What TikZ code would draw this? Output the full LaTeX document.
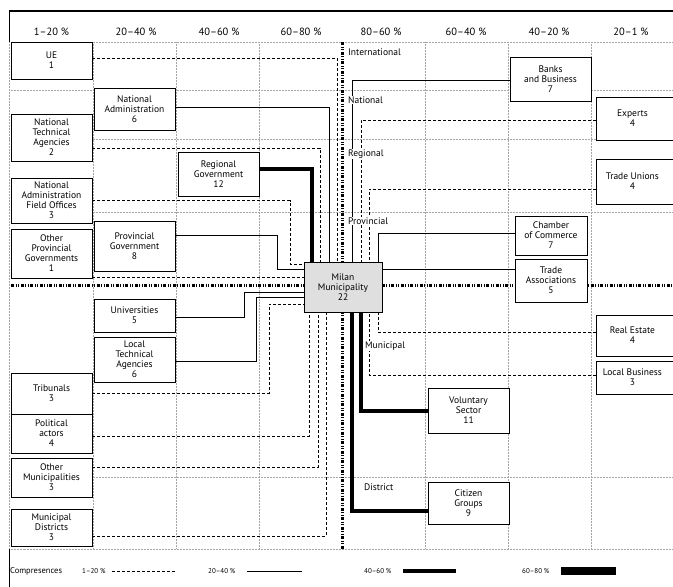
\documentclass[tikz,border=0pt]{standalone}
\usepackage{fontspec}
\setmainfont{PT Sans}
\begin{document}
\begin{tikzpicture}[x=1pt,y=-1pt,
  grid/.style={gray!70, line width=0.6pt, dash pattern=on 0.6pt off 0.9pt},
  axisline/.style={line width=3pt, dash pattern=on 3pt off 1.5pt on 1pt off 1.5pt on 1pt off 1.5pt},
  frame/.style={line width=1pt},
  box/.style={draw, fill=white, line width=0.9pt, align=center, inner sep=0pt, font=\fontsize{9.5}{10}\selectfont},
  cbox/.style={box, minimum width=81pt},
  ebox/.style={box, minimum width=86pt, anchor=west},
  elab/.style={align=center, font=\fontsize{9.5}{10}\selectfont, xshift=-7pt, inner sep=0pt},
  mil/.style={box, fill=gray!25, line width=0.9pt, minimum width=78pt, minimum height=50pt},
  cA/.style={line width=0.8pt, dash pattern=on 3pt off 2pt},
  cB/.style={line width=0.8pt},
  cC/.style={line width=4.5pt},
  cD/.style={line width=8pt},
  hdr/.style={font=\fontsize{10.5}{11}\selectfont, inner sep=0pt},
  lvl/.style={font=\fontsize{9.5}{10}\selectfont, anchor=west, fill=white, inner sep=1pt},
  legt/.style={font=\fontsize{8.5}{9}\selectfont, anchor=west, inner sep=0pt},
  legp/.style={font=\fontsize{7}{8}\selectfont, anchor=west, inner sep=0pt}
]
\useasboundingbox (0,0) rectangle (673,587);

% grid
\foreach \y in {42,90,139,212,477,549} \draw[grid] (9,\y) -- (673,\y);
\foreach \x in {93,176,259,425,508,591} \draw[grid] (\x,42) -- (\x,549);
\draw[grid] (9,42) -- (9,549);
\draw[frame] (9,11) -- (9,42);
\draw[frame] (9,549) -- (9,587);
\draw[line width=1.3pt] (8.5,11) -- (673,11);

% axes
\draw[axisline] (11,285) -- (673,285);
\draw[axisline] (342,42) -- (342,549);

% headers
\node[hdr] (h1) at (51.5,32) {1–20 \%};
\node[hdr] (h2) at (136,32) {20–40 \%};
\node[hdr] (h3) at (219,32) {40–60 \%};
\node[hdr] (h4) at (301,32) {60–80 \%};
\node[hdr] (h5) at (381,32) {80–60 \%};
\node[hdr] (h6) at (466,32) {60–40 \%};
\node[hdr] (h7) at (549,32) {40–20 \%};
\node[hdr] (h8) at (631,32) {20–1 \%};

% boxes (left)
\node[cbox, minimum height=37pt] (ue) at (51.5,60.5) {UE\\1};
\node[cbox, minimum height=47pt] (nta) at (51.5,137.5) {National\\Technical\\Agencies\\2};
\node[cbox, minimum height=45pt] (nafo) at (51.5,200.5) {National\\Administration\\Field Offices\\3};
\node[cbox, minimum height=49pt] (opg) at (51.5,253.5) {Other\\Provincial\\Governments\\1};
\node[cbox, minimum height=41pt] (trib) at (51.5,393.5) {Tribunals\\3};
\node[cbox, minimum height=39pt] (pol) at (51.5,433.5) {Political\\actors\\4};
\node[cbox, minimum height=39pt] (omun) at (51.5,477.5) {Other\\Municipalities\\3};
\node[cbox, minimum height=37pt] (mdis) at (51.5,527.5) {Municipal\\Districts\\3};
\node[cbox, minimum height=42pt] (na) at (134.5,109) {National\\Administration\\6};
\node[cbox, minimum height=50pt] (pg) at (134.5,246) {Provincial\\Government\\8};
\node[cbox, minimum height=33pt] (univ) at (134.5,315.5) {Universities\\5};
\node[cbox, minimum height=45pt] (lta) at (134.5,359.5) {Local\\Technical\\Agencies\\6};
\node[cbox, minimum height=44pt] (rg) at (218.5,174) {Regional\\Government\\12};

% boxes (right)
\node[cbox, minimum height=44pt] (banks) at (550.5,79) {Banks\\and Business\\7};
\node[box, minimum width=72pt, minimum height=39pt] (coc) at (551,235.5) {Chamber\\of Commerce\\7};
\node[box, minimum width=72pt, minimum height=43pt] (ta) at (551,280.5) {Trade\\Associations\\5};
\node[cbox, minimum height=45pt] (vs) at (468.5,410.5) {Voluntary\\Sector\\11};
\node[cbox, minimum height=42pt] (cg) at (468.5,503) {Citizen\\Groups\\9};
\node[ebox, minimum height=43pt, label={[elab]center:Experts\\4}] (experts) at (596,118.5) {};
\node[ebox, minimum height=45pt, label={[elab]center:Trade Unions\\4}] (tu) at (596,181.5) {};
\node[ebox, minimum height=41pt, label={[elab]center:Real Estate\\4}] (re) at (596,335.5) {};
\node[ebox, minimum height=33pt, label={[elab]center:Local Business\\3}] (lb) at (596,377.5) {};

% connectors (left)
\draw[cA] (ue.east |- 0,58) -| (337,262);
\draw[cB] (na.east |- 0,107) -| (329,262);
\draw[cA] (nta.east |- 0,148) -| (320,262);
\draw[cC] (rg.east |- 0,169) -| (312,262);
\draw[cA] (nafo.east |- 0,200.7) -| (290,264) -- (304,264);
\draw[cB] (pg.east |- 0,235) -| (277,269) -- (304,269);
\draw[cA] (opg.east |- 0,277) -- (304,277);
\draw[cB] (univ.east |- 0,317) -| (244,292) -- (304,292);
\draw[cB] (lta.east |- 0,361) -| (256,297) -- (304,297);
\draw[cA] (trib.east |- 0,393) -| (269,304) -- (304,304);
\draw[cA] (pol.east |- 0,436) -| (309,312);
\draw[cA] (omun.east |- 0,467) -| (318,312);
\draw[cA] (mdis.east |- 0,536) -| (326,312);

% connectors (right)
\draw[cB] (banks.west |- 0,80) -| (352,262);
\draw[cA] (experts.west |- 0,120) -| (361,262);
\draw[cA] (tu.west |- 0,189) -| (369,262);
\draw[cB] (coc.west |- 0,233) -| (378,262);
\draw[cB] (ta.west |- 0,269) -- (382,269);
\draw[cA] (re.west |- 0,332) -| (378,312);
\draw[cA] (lb.west |- 0,375) -| (369,312);
\draw[cC] (vs.west |- 0,411) -| (361,312);
\draw[cC] (cg.west |- 0,511) -| (352,312);

% centre
\node[mil] (milan) at (343,287) {Milan\\Municipality\\22};

% level labels
\node[lvl] (lint) at (347,52) {International};
\node[lvl] (lnat) at (347,100) {National};
\node[lvl] (lreg) at (347,154) {Regional};
\node[lvl] (lpro) at (347,221) {Provincial};
\node[lvl] (lmun) at (364,346) {Municipal};
\node[lvl] (ldis) at (363,487) {District};

% legend
\node[legt] (lg) at (10,571) {Compresences};
\node[legp] (lg1) at (82,571) {1–20 \%};
\coordinate (lg1a) at (112,571); \coordinate (lg1b) at (175,571);
\draw[cA] (lg1a) -- (lg1b);
\node[legp] (lg2) at (208,571) {20–40 \%};
\coordinate (lg2a) at (247,571); \coordinate (lg2b) at (302,571);
\draw[cB] (lg2a) -- (lg2b);
\node[legp] (lg3) at (364,571) {40–60 \%};
\coordinate (lg3a) at (403,571); \coordinate (lg3b) at (456,571);
\draw[cC] (lg3a) -- (lg3b);
\node[legp] (lg4) at (522,571) {60–80 \%};
\coordinate (lg4a) at (561,571); \coordinate (lg4b) at (616,571);
\draw[cD] (lg4a) -- (lg4b);
\end{tikzpicture}
\end{document}
